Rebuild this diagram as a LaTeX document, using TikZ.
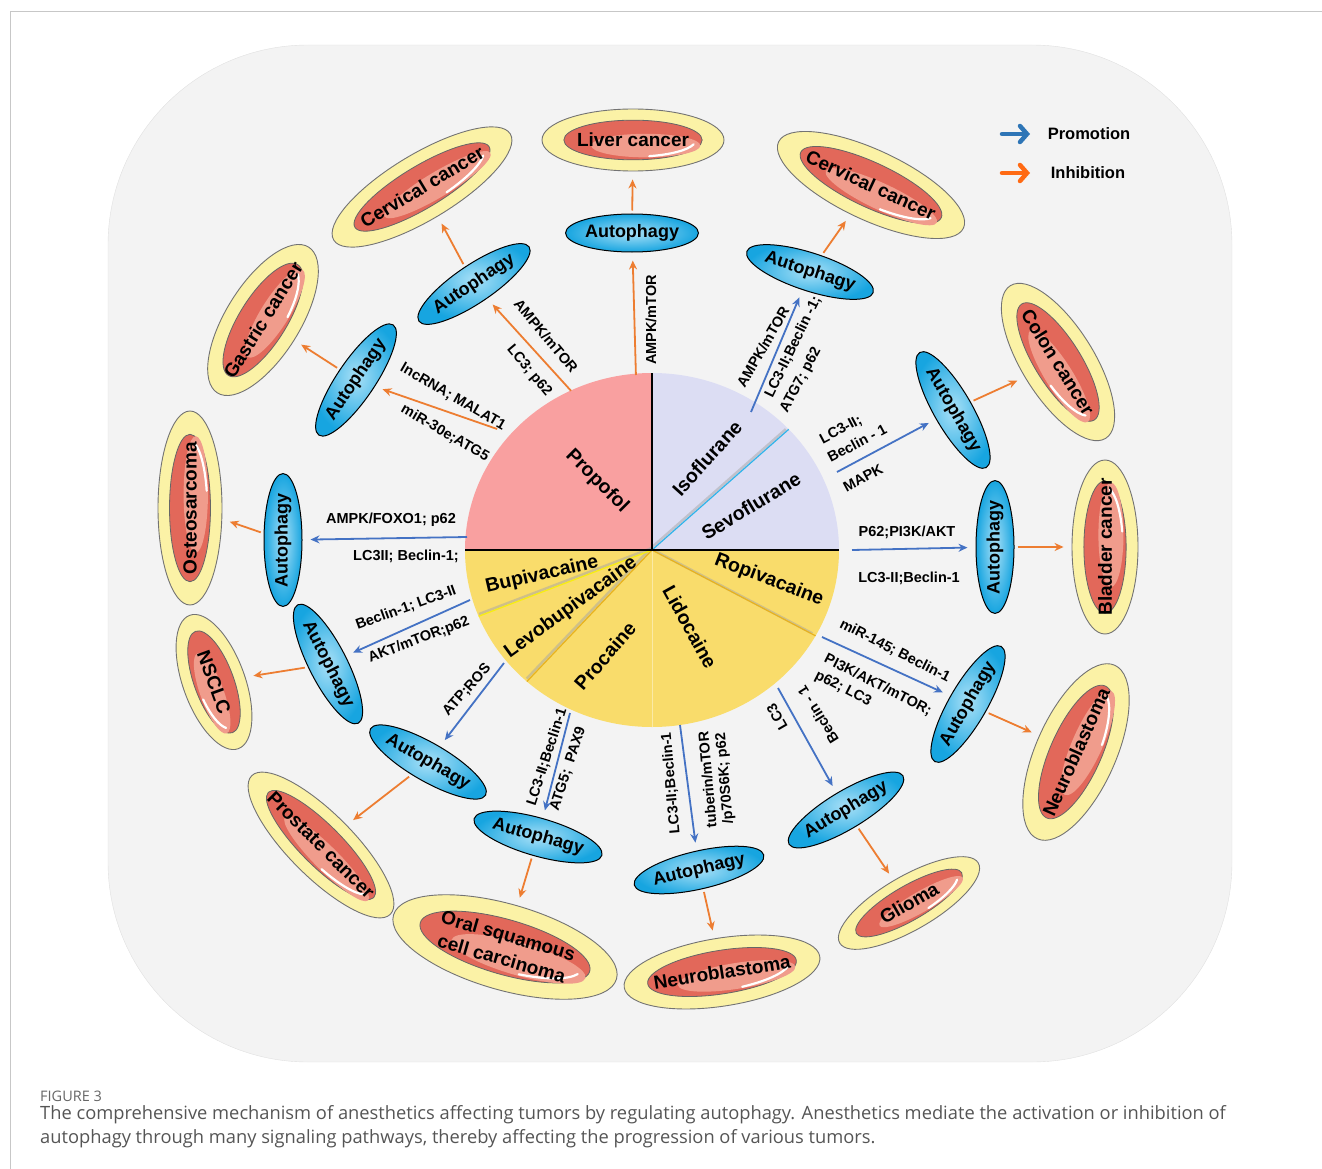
\documentclass[tikz,border=0pt]{standalone}
\usepackage{fontspec}
\setmainfont{Liberation Sans}
\newfontfamily\capfont{Open Sans}
\usetikzlibrary{shapes.geometric,arrows.meta}

\definecolor{bgrey}{HTML}{F3F3F3}
\definecolor{propcol}{HTML}{F9A0A0}
\definecolor{lavcol}{HTML}{DCDDF3}
\definecolor{yelcol}{HTML}{F9DC6B}
\definecolor{sevline}{HTML}{2FB4EA}
\definecolor{lidline}{HTML}{E8B21E}
\definecolor{levline}{HTML}{F7EE10}
\definecolor{promblue}{HTML}{4472C4}
\definecolor{inhorange}{HTML}{ED7D31}
\definecolor{legblue}{HTML}{2E75B6}
\definecolor{legorange}{HTML}{FF6A13}
\definecolor{autoblue}{HTML}{17A5E0}
\definecolor{autolight}{HTML}{A8E0F7}
\definecolor{tumyel}{HTML}{FBF2A6}
\definecolor{tumred}{HTML}{E2685A}
\definecolor{tumpink}{HTML}{F09C8C}
\definecolor{capgrey}{HTML}{555555}

\tikzset{
  prom/.style={promblue, line width=1.8pt, -{Stealth[length=9pt,width=8pt]}, shorten >=8pt},
  inhib/.style={inhorange, line width=1.8pt, -{Stealth[length=9pt,width=8pt]}, shorten >=8pt, shorten <=3pt},
  lbl/.style={font=\fontsize{14.5}{16.5}\selectfont\bfseries, inner sep=1pt},
  drug/.style={font=\fontsize{19.5}{22}\selectfont\bfseries, inner sep=0pt},
  autoph/.style={ellipse, draw=black, line width=1pt, inner color=autolight, outer color=autoblue,
    minimum width=116pt, minimum height=38pt, inner sep=0pt, font=\fontsize{18}{20}\selectfont\bfseries},
  tumout/.style={ellipse, draw=black!55, line width=0.9pt, fill=tumyel, inner sep=0pt},
  tumin/.style={ellipse, draw=black!60, line width=0.8pt, fill=tumred, inner sep=0pt},
  tumhl/.style={fill=tumpink},
  tumtxt/.style={font=\fontsize{19}{24}\selectfont\bfseries, align=center, inner sep=0pt},
  legtxt/.style={font=\fontsize{16.5}{18}\selectfont\bfseries, inner sep=0pt},
  legarr/.style={line width=4.5pt, line cap=round, -{Straight Barb[length=7pt,width=16pt,line cap=round]}},
  captxt/.style={font=\capfont\fontsize{18.3}{20}\selectfont, text=capgrey, inner sep=0pt, anchor=west},
}

% tumour: name, centre, angle, width, height, text
\newcommand{\tumour}[6]{%
  \begin{scope}[shift={(#2)}, rotate=#3, transform shape]
    \node[tumout, minimum width=#4, minimum height=#5] (#1) at (0,0) {};
    \node[tumin, minimum width=0.76*#4, minimum height=0.64*#5] (#1-in) at (0,0) {};
    \fill[tumhl] (0.07*#4,0.09*#5) ellipse [x radius=0.3*#4, y radius=0.19*#5];
    \draw[white, line width=2.2pt, line cap=round] ({0.345*#4*cos(15)},{0.27*#5*sin(15)})
      arc [start angle=15, end angle=75, x radius=0.345*#4, y radius=0.27*#5];
    \node[tumtxt] (#1-t) at (0,0) {#6};
  \end{scope}}

\begin{document}
\begin{tikzpicture}[x=1pt, y=-1pt]
\useasboundingbox (0,0) rectangle (1322,1169);
\draw[black!22, line width=1pt] (1322,12) -- (10,12) -- (10,1169);
\fill[bgrey, draw=black!12] (108,45) [rounded corners=200pt] rectangle (1232,1062);

% pie
\begin{scope}[shift={(652,550)}]
  \fill[propcol] (0,0) -- (180:187 and 177) arc [start angle=180, end angle=270, x radius=187, y radius=177] -- cycle;
  \fill[lavcol] (0,0) -- (270:187 and 177) arc [start angle=270, end angle=360, x radius=187, y radius=177] -- cycle;
  \fill[yelcol] (0,0) -- (0:187 and 177) arc [start angle=0, end angle=180, x radius=187, y radius=177] -- cycle;
  \draw[yelcol!60!white, line width=1pt] (0,0) -- (90:187 and 177);
  \foreach \a/\c in {-43/sevline, 29/lidline, 132/lidline, 158/levline} {
    \draw[black!35, line width=2.5pt, opacity=.5, shift={(-1.5,-1.5)}] (0,0) -- (\a:185 and 175);
    \draw[\c, line width=1.2pt] (0,0) -- (\a:187 and 177);
  }
  \draw[black, line width=2pt] (180:187 and 177) -- (0:187 and 177);
  \draw[black, line width=2pt] (0,0) -- (270:187 and 177);
\end{scope}

\node[drug, rotate=-45] (propofol) at (597,481) {Propofol};
\node[drug, rotate=48] (iso) at (707,458) {Isoflurane};
\node[drug, rotate=31] (sevo) at (751,506) {Sevoflurane};
\node[drug, rotate=-21] (ropi) at (769,580) {Ropivacaine};
\node[drug, rotate=-61] (lido) at (690,627) {Lidocaine};
\node[drug, rotate=49] (proca) at (605,656) {Procaine};
\node[drug, rotate=36] (levo) at (571,608) {Levobupivacaine};
\node[drug, rotate=13] (bupi) at (542,575) {Bupivacaine};

% tumours
\tumour{liver}{633,140}{0}{182}{62}{Liver cancer}
\tumour{cervl}{422,187}{31}{206}{66}{Cervical cancer}
\tumour{gastric}{263,320}{58}{172}{74}{Gastric cancer}
\tumour{osteo}{190,508}{90}{194}{64}{Osteosarcoma}
\tumour{nsclc}{214,682}{-70}{142}{62}{NSCLC}
\tumour{prostate}{321,845}{-45}{196}{64}{Prostate cancer}
\tumour{oral}{505,947}{-16}{232}{86}{Oral squamous\\cell carcinoma}
\tumour{neurob}{722,972}{9}{198}{68}{Neuroblastoma}
\tumour{glioma}{909,903}{30}{160}{54}{Glioma}
\tumour{neuror}{1076,752}{66}{190}{80}{Neuroblastoma}
\tumour{bladder}{1105,547}{90}{174}{66}{Bladder cancer}
\tumour{colon}{1058,362}{-58}{180}{72}{Colon cancer}
\tumour{cervr}{871,185}{-25}{204}{70}{Cervical cancer}

% autophagy
\node[autoph] (au1) at (632,233) {Autophagy};
\node[autoph, rotate=34] (au2) at (474,284) {Autophagy};
\node[autoph, rotate=56] (au3) at (356,380) {Autophagy};
\node[autoph, rotate=90] (au4) at (283,540) {Autophagy};
\node[autoph, rotate=-63] (au5) at (328,664) {Autophagy};
\node[autoph, rotate=-30] (au6) at (428,762) {Autophagy};
\node[autoph, rotate=-16] (au7) at (538,837) {Autophagy};
\node[autoph, rotate=13] (au8) at (699,870) {Autophagy};
\node[autoph, rotate=31] (au9) at (846,810) {Autophagy};
\node[autoph, rotate=60] (au10) at (968,704) {Autophagy};
\node[autoph, rotate=90] (au11) at (995,547) {Autophagy};
\node[autoph, rotate=-60] (au12) at (953,410) {Autophagy};
\node[autoph, rotate=-18] (au13) at (810,272) {Autophagy};

% spokes
\coordinate (s1) at (636,378);
\coordinate (s2) at (573,393);
\coordinate (s3) at (500,430);
\coordinate (s4) at (467,537);
\coordinate (s5) at (470,600);
\coordinate (s6) at (504,663);
\coordinate (s7) at (570,713);
\coordinate (s8) at (680,725);
\coordinate (s9) at (778,688);
\coordinate (s10) at (822,637);
\coordinate (s11) at (852,550);
\coordinate (s12) at (837,472);
\coordinate (s13) at (751,412);

\draw[inhib] (s1) -- (au1);
\draw[inhib] (s2) -- (au2);
\draw[inhib] (s3) -- (au3);
\foreach \i in {4,...,13}
  \draw[prom] (s\i) -- (au\i);

\draw[inhib] (au1) -- (liver);
\draw[inhib] (au2) -- (cervl);
\draw[inhib] (au3) -- (gastric);
\draw[inhib] (au4) -- (osteo);
\draw[inhib] (au5) -- (nsclc);
\draw[inhib] (au6) -- (prostate);
\draw[inhib] (au7) -- (oral);
\draw[inhib] (au8) -- (neurob);
\draw[inhib] (au9) -- (glioma);
\draw[inhib] (au10) -- (neuror);
\draw[inhib] (au11) -- (bladder);
\draw[inhib] (au12) -- (colon);
\draw[inhib] (au13) -- (cervr);

% pathway labels
\node[lbl, rotate=90] (l1) at (651,320) {AMPK/mTOR};
\node[lbl, rotate=-50] (l2a) at (546,336) {AMPK/mTOR};
\node[lbl, rotate=-50] (l2b) at (529,371) {LC3; p62};
\node[lbl, rotate=-30] (l3a) at (453,397) {lncRNA; MALAT1};
\node[lbl, rotate=-30] (l3b) at (445,433) {miR-30e;ATG5};
\node[lbl] (l4a) at (391,520) {AMPK/FOXO1; p62};
\node[lbl] (l4b) at (406,556) {LC3II; Beclin-1;};
\node[lbl, rotate=20] (l5a) at (406,608) {Beclin-1; LC3-II};
\node[lbl, rotate=21] (l5b) at (419,640) {AKT/mTOR;p62};
\node[lbl, rotate=48] (l6) at (467,690) {ATP;ROS};
\node[lbl, rotate=72] (l7a) at (547,757) {LC3-II;Beclin-1};
\node[lbl, rotate=72] (l7b) at (568,769) {ATG5;\ \ PAX9};
\node[lbl, rotate=95] (l8a) at (671,783) {LC3-II;Beclin-1};
\node[lbl, rotate=95, align=center] (l8b) at (717,779) {tuberin/mTOR\\/p70S6K; p62};
\node[lbl, rotate=120] (l9a) at (777,717) {LC3};
\node[lbl, rotate=122] (l9b) at (818,715) {Beclin - 1};
\node[lbl, rotate=-27] (l10a) at (895,651) {miR-145; Beclin-1};
\node[lbl, rotate=-27] (l10b) at (878,685) {PI3K/AKT/mTOR;};
\node[lbl, rotate=-27] (l10c) at (843,689) {p62; LC3};
\node[lbl] (l11a) at (907,532) {P62;PI3K/AKT};
\node[lbl] (l11b) at (909,578) {LC3-II;Beclin-1};
\node[lbl, rotate=28] (l12a) at (841,430) {LC3-II;};
\node[lbl, rotate=28] (l12b) at (857,443) {Beclin - 1};
\node[lbl, rotate=28] (l12c) at (863,478) {MAPK};
\node[lbl, rotate=60] (l13a) at (763,347) {AMPK/mTOR};
\node[lbl, rotate=64] (l13b) at (793,347) {LC3-II;Beclin -1;};
\node[lbl, rotate=62] (l13c) at (801,380) {ATG7; p62};

% legend
\coordinate (lp0) at (1002,134);
\coordinate (lp1) at (1030,134);
\coordinate (li0) at (1002,173);
\coordinate (li1) at (1030,173);
\draw[legarr, legblue] (lp0) -- (lp1);
\draw[legarr, legorange] (li0) -- (li1);
\node[legtxt] (promo) at (1089,134) {Promotion};
\node[legtxt] (inhibi) at (1088,173) {Inhibition};

% caption
\node[captxt, font=\capfont\fontsize{14.5}{16}\selectfont, text=black!60] (fig) at (40,1096) {FIGURE 3};
\node[captxt] (cap1) at (40,1115) {The comprehensive mechanism of anesthetics affecting tumors by regulating autophagy. Anesthetics mediate the activation or inhibition of};
\node[captxt] (cap2) at (40,1139) {autophagy through many signaling pathways, thereby affecting the progression of various tumors.};
\end{tikzpicture}
\end{document}
